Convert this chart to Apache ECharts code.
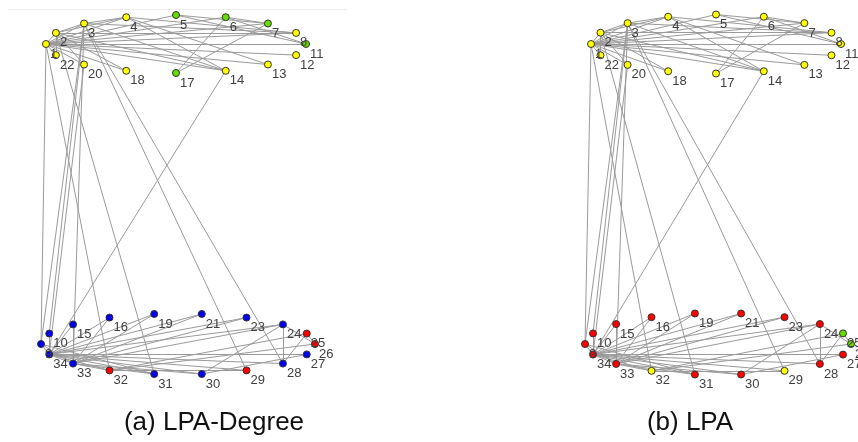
<!DOCTYPE html>
<html>
<head>
<meta charset="utf-8">
<script src="https://cdn.jsdelivr.net/npm/echarts@6/dist/echarts.min.js"></script>
<style>
  html, body { margin: 0; padding: 0; background: #fff; }
  #chart { width: 858px; height: 442px; }
</style>
</head>
<body>
<div id="chart"></div>
<script>
// Zachary karate club network, two community partitions side by side.

// Node ordering around the upper and lower elliptical rings
const topRing = [1, 2, 3, 4, 5, 6, 7, 8, 11, 12, 13, 14, 17, 18, 20, 22];
const bottomRing = [9, 10, 15, 16, 19, 21, 23, 24, 25, 26, 27, 28, 29, 30, 31, 32, 33, 34];

// Friendship ties (1-based node ids)
const edges = [
  [1,2],[1,3],[1,4],[1,5],[1,6],[1,7],[1,8],[1,9],[1,11],[1,12],[1,13],[1,14],[1,18],[1,20],[1,22],[1,32],
  [2,3],[2,4],[2,8],[2,14],[2,18],[2,20],[2,22],[2,31],
  [3,4],[3,8],[3,9],[3,10],[3,14],[3,28],[3,29],[3,33],
  [4,8],[4,13],[4,14],
  [5,7],[5,11],
  [6,7],[6,11],[6,17],
  [7,17],
  [9,31],[9,33],[9,34],
  [10,34],
  [14,34],
  [15,33],[15,34],
  [16,33],[16,34],
  [19,33],[19,34],
  [20,34],
  [21,33],[21,34],
  [23,33],[23,34],
  [24,26],[24,28],[24,30],[24,33],[24,34],
  [25,26],[25,28],[25,32],
  [26,32],
  [27,30],[27,34],
  [28,34],
  [29,32],[29,34],
  [30,33],[30,34],
  [31,33],[31,34],
  [32,33],[32,34],
  [33,34]
];

// Community of each node 1..34: Y yellow, G green, B blue, R red
const groupsLpaDegree = [
  'Y','Y','Y','Y','G','G','G','Y','B','B',
  'G','Y','Y','Y','B','B','G','Y','B','Y',
  'B','Y','B','B','R','R','B','B','R','B',
  'B','R','B','B'
];
const groupsLpa = [
  'Y','Y','Y','Y','Y','Y','Y','Y','R','R',
  'Y','Y','Y','Y','R','R','Y','Y','R','Y',
  'R','Y','R','R','G','G','R','R','Y','R',
  'R','Y','R','R'
];

const captions = ['(a) LPA-Degree', '(b) LPA'];

const palette = { Y: '#ffff00', G: '#66dd00', B: '#0000ee', R: '#ff0000' };

// Ring geometry for each panel (pixel space)
const panels = [
  { top: { cx: 176, cy: 44, rx: 130, ry: 29 }, bottom: { cx: 178, cy: 344, rx: 137, ry: 30.5 }, caption: { x: 214, y: 423 } },
  { top: { cx: 716, cy: 44, rx: 125, ry: 29.5 }, bottom: { cx: 718, cy: 344, rx: 133, ry: 31 }, caption: { x: 690, y: 423 } }
];

// Place nodes evenly around an ellipse, starting at the left end and going clockwise over the top
function ringPositions(ring, geo, out) {
  const n = ring.length;
  ring.forEach(function (id, i) {
    const a = Math.PI - i * 2 * Math.PI / n;
    out[id] = [geo.cx + geo.rx * Math.cos(a), geo.cy - geo.ry * Math.sin(a)];
  });
}

function buildSeries(panel, groups) {
  const pos = {};
  ringPositions(topRing, panel.top, pos);
  ringPositions(bottomRing, panel.bottom, pos);
  const data = [];
  for (let id = 1; id <= 34; id++) {
    data.push({
      name: String(id),
      value: pos[id],
      itemStyle: { color: palette[groups[id - 1]] }
    });
  }
  const links = edges.map(function (e) { return { source: e[0] - 1, target: e[1] - 1 }; });
  return {
    type: 'graph',
    coordinateSystem: 'cartesian2d',
    symbol: 'circle',
    symbolSize: 7,
    silent: true,
    animation: false,
    itemStyle: { borderColor: '#333', borderWidth: 1 },
    lineStyle: { color: '#9a9a9a', width: 1, opacity: 1, curveness: 0 },
    label: {
      show: true,
      position: 'inside',
      align: 'left',
      verticalAlign: 'middle',
      offset: [4, 10],
      formatter: '{b}',
      color: '#404040',
      fontFamily: 'Liberation Sans',
      fontSize: 13
    },
    data: data,
    links: links
  };
}

const chart = echarts.init(document.getElementById('chart'), null, { renderer: 'canvas' });

chart.setOption({
  backgroundColor: '#ffffff',
  animation: false,
  grid: { left: 0, right: 0, top: 0, bottom: 0 },
  xAxis: { type: 'value', min: 0, max: 858, show: false },
  yAxis: { type: 'value', min: 0, max: 442, inverse: true, show: false },
  series: [
    buildSeries(panels[0], groupsLpaDegree),
    buildSeries(panels[1], groupsLpa)
  ],
  graphic: [
    { type: 'line', shape: { x1: 8, y1: 9.5, x2: 347, y2: 9.5 }, style: { stroke: '#eeeeee', lineWidth: 1 }, silent: true }
  ].concat(captions.map(function (t, i) {
    return {
      type: 'text',
      x: panels[i].caption.x,
      y: panels[i].caption.y,
      silent: true,
      style: {
        text: t,
        align: 'center',
        verticalAlign: 'middle',
        font: '26px "Liberation Sans"',
        fill: '#111111'
      }
    };
  }))
});
</script>
</body>
</html>
